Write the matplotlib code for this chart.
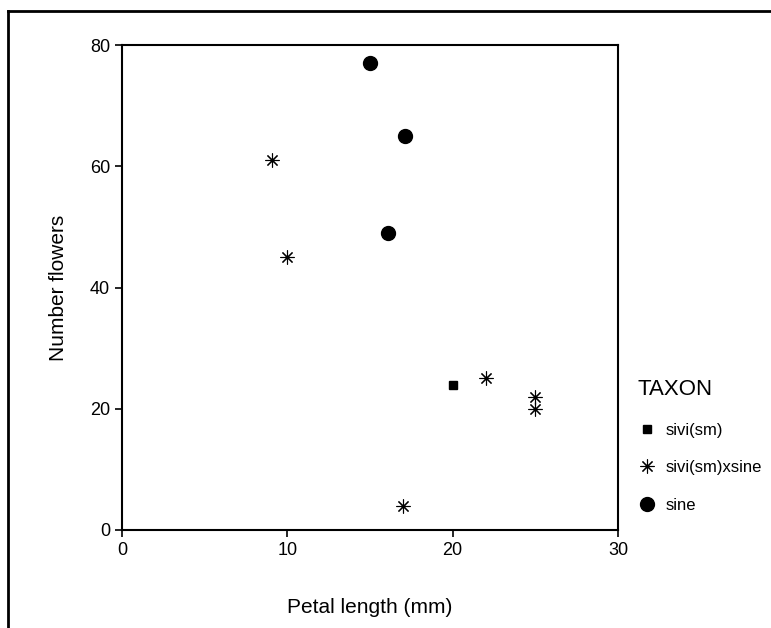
import matplotlib
matplotlib.use("Agg")
import matplotlib.pyplot as plt
from matplotlib.lines import Line2D

plt.rcParams['font.family'] = ['Liberation Sans', 'DejaVu Sans']

# Data
sivi_x = [20.0]
sivi_y = [24.0]
hybrid_x = [9.1, 10.0, 22.0, 25.0, 25.0, 17.0]
hybrid_y = [61.0, 45.0, 25.0, 22.0, 20.0, 4.0]
sine_x = [15.0, 17.1, 16.1]
sine_y = [77.0, 65.0, 49.0]
labels = ['sivi(sm)', 'sivi(sm)xsine', 'sine']
x_ticks = [0, 10, 20, 30]
y_ticks = [0, 20, 40, 60, 80]

fig = plt.figure(figsize=(7.71, 6.28), dpi=100)
ax = fig.add_axes([122/771, 1-530/628, (618-122)/771, (530-45)/628])

star = (8, 2, 0)
ax.plot(sivi_x, sivi_y, linestyle='none', marker='s', markersize=6, color='black')
ax.plot(hybrid_x, hybrid_y, linestyle='none', marker=star, markersize=10,
        markeredgewidth=0.8, color='black')
ax.plot(sine_x, sine_y, linestyle='none', marker='o', markersize=10, color='black')

ax.set_xlim(0, 30)
ax.set_ylim(0, 80)
ax.set_xticks(x_ticks)
ax.set_yticks(y_ticks)
ax.tick_params(labelsize=13, direction='out', length=5, width=1.2)
for s in ax.spines.values():
    s.set_linewidth(1.5)

ax.set_xlabel('Petal length (mm)', fontsize=15, labelpad=28)
ax.set_ylabel('Number flowers', fontsize=15, labelpad=16)

handles = [
    Line2D([], [], linestyle='none', marker='s', markersize=6, color='black'),
    Line2D([], [], linestyle='none', marker=star, markersize=10, markeredgewidth=0.8, color='black'),
    Line2D([], [], linestyle='none', marker='o', markersize=10, color='black'),
]
leg = fig.legend(handles, labels, title='TAXON', loc='upper left',
                 bbox_to_anchor=(622/771, 1-364/628), frameon=False,
                 fontsize=12, title_fontsize=16, labelspacing=1.35,
                 handletextpad=0.5, handlelength=1.2, alignment='left')

# Outer frame lines (top and left)
fig.add_artist(Line2D([8/771, 1.0], [1-11/628, 1-11/628], color='black', linewidth=2,
                      transform=fig.transFigure))
fig.add_artist(Line2D([8/771, 8/771], [0, 1-11/628], color='black', linewidth=2,
                      transform=fig.transFigure))

fig.savefig('out.png', dpi=100)
